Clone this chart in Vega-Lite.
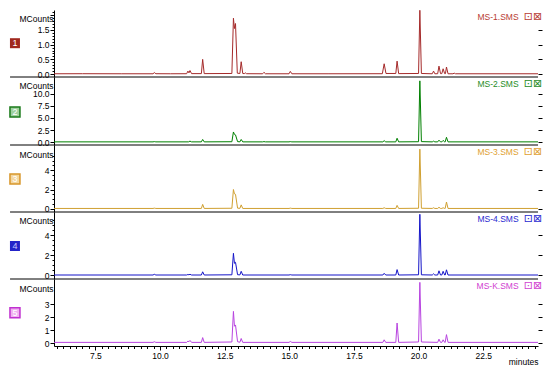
{
  "$schema": "https://vega.github.io/schema/vega-lite/v6.json",
  "background": "white",
  "padding": {"left": 6, "top": 8, "right": 4, "bottom": 2},
  "config": {
    "font": "Liberation Sans",
    "view": {"stroke": null},
    "axis": {"labelFontSize": 8.5, "labelColor": "black", "tickColor": "black", "domainColor": "black", "titleFontSize": 8.5, "titleFontWeight": "normal", "titleColor": "black", "grid": false, "labelOverlap": false, "labelFlush": false}
  },
  "datasets": {
    "p1": [{"t":5.9,"v":0.01},{"t":7.0,"v":0.012},{"t":8.5,"v":0.01},{"t":9.73,"v":0.01},{"t":9.78,"v":0.05},{"t":9.84,"v":0.012},{"t":10.4,"v":0.01},{"t":11.03,"v":0.012},{"t":11.08,"v":0.1},{"t":11.12,"v":0.04},{"t":11.16,"v":0.12},{"t":11.22,"v":0.015},{"t":11.6,"v":0.015},{"t":11.65,"v":0.5},{"t":11.71,"v":0.015},{"t":12.78,"v":0.02},{"t":12.84,"v":1.9},{"t":12.88,"v":1.55},{"t":12.92,"v":1.72},{"t":12.99,"v":0.03},{"t":13.09,"v":0.02},{"t":13.14,"v":0.42},{"t":13.2,"v":0.02},{"t":13.26,"v":0.015},{"t":13.3,"v":0.04},{"t":13.35,"v":0.012},{"t":13.97,"v":0.01},{"t":14.02,"v":0.06},{"t":14.08,"v":0.01},{"t":14.99,"v":0.01},{"t":15.04,"v":0.09},{"t":15.1,"v":0.01},{"t":16.5,"v":0.01},{"t":18.6,"v":0.012},{"t":18.67,"v":0.35},{"t":18.74,"v":0.02},{"t":19.12,"v":0.02},{"t":19.17,"v":0.44},{"t":19.23,"v":0.015},{"t":20.0,"v":0.02},{"t":20.05,"v":2.17},{"t":20.11,"v":0.02},{"t":20.53,"v":0.01},{"t":20.58,"v":0.1},{"t":20.63,"v":0.01},{"t":20.74,"v":0.012},{"t":20.79,"v":0.27},{"t":20.85,"v":0.015},{"t":20.9,"v":0.015},{"t":20.95,"v":0.18},{"t":21.01,"v":0.015},{"t":21.04,"v":0.015},{"t":21.08,"v":0.24},{"t":21.14,"v":0.01},{"t":21.33,"v":0.01},{"t":21.38,"v":0.03},{"t":21.43,"v":0.01},{"t":24.62,"v":0.01}],
    "p2": [{"t":5.9,"v":0.05},{"t":9.73,"v":0.05},{"t":9.78,"v":0.1},{"t":9.84,"v":0.05},{"t":11.1,"v":0.05},{"t":11.16,"v":0.2},{"t":11.22,"v":0.05},{"t":11.6,"v":0.05},{"t":11.65,"v":0.55},{"t":11.71,"v":0.05},{"t":12.78,"v":0.08},{"t":12.84,"v":2.1},{"t":12.88,"v":1.6},{"t":12.92,"v":1.5},{"t":13.0,"v":0.1},{"t":13.09,"v":0.06},{"t":13.14,"v":0.55},{"t":13.2,"v":0.05},{"t":13.97,"v":0.05},{"t":14.02,"v":0.1},{"t":14.08,"v":0.05},{"t":14.99,"v":0.05},{"t":15.04,"v":0.1},{"t":15.1,"v":0.05},{"t":18.62,"v":0.05},{"t":18.67,"v":0.3},{"t":18.73,"v":0.05},{"t":19.12,"v":0.05},{"t":19.17,"v":0.8},{"t":19.23,"v":0.05},{"t":20.0,"v":0.08},{"t":20.05,"v":12.7},{"t":20.11,"v":0.1},{"t":20.53,"v":0.05},{"t":20.58,"v":0.2},{"t":20.63,"v":0.05},{"t":20.74,"v":0.05},{"t":20.79,"v":0.4},{"t":20.85,"v":0.05},{"t":20.9,"v":0.05},{"t":20.95,"v":0.35},{"t":21.01,"v":0.05},{"t":21.03,"v":0.05},{"t":21.08,"v":1.0},{"t":21.14,"v":0.05},{"t":24.62,"v":0.05}],
    "p3": [{"t":5.9,"v":0.03},{"t":9.73,"v":0.03},{"t":9.78,"v":0.06},{"t":9.84,"v":0.03},{"t":11.6,"v":0.03},{"t":11.65,"v":0.45},{"t":11.71,"v":0.03},{"t":12.78,"v":0.05},{"t":12.84,"v":2.0},{"t":12.88,"v":1.55},{"t":12.92,"v":1.5},{"t":13.0,"v":0.06},{"t":13.09,"v":0.04},{"t":13.14,"v":0.4},{"t":13.2,"v":0.03},{"t":14.99,"v":0.03},{"t":15.04,"v":0.06},{"t":15.1,"v":0.03},{"t":18.62,"v":0.03},{"t":18.67,"v":0.1},{"t":18.73,"v":0.03},{"t":19.12,"v":0.03},{"t":19.17,"v":0.35},{"t":19.23,"v":0.03},{"t":20.0,"v":0.05},{"t":20.05,"v":6.2},{"t":20.11,"v":0.05},{"t":20.53,"v":0.03},{"t":20.58,"v":0.1},{"t":20.63,"v":0.03},{"t":20.74,"v":0.03},{"t":20.79,"v":0.15},{"t":20.85,"v":0.03},{"t":20.9,"v":0.03},{"t":20.95,"v":0.1},{"t":21.01,"v":0.03},{"t":21.03,"v":0.03},{"t":21.08,"v":0.7},{"t":21.14,"v":0.03},{"t":24.62,"v":0.03}],
    "p4": [{"t":5.9,"v":0.03},{"t":9.73,"v":0.03},{"t":9.78,"v":0.1},{"t":9.84,"v":0.03},{"t":11.03,"v":0.03},{"t":11.08,"v":0.08},{"t":11.12,"v":0.05},{"t":11.16,"v":0.1},{"t":11.22,"v":0.03},{"t":11.6,"v":0.03},{"t":11.65,"v":0.35},{"t":11.71,"v":0.03},{"t":12.78,"v":0.05},{"t":12.84,"v":2.2},{"t":12.88,"v":1.2},{"t":12.92,"v":1.3},{"t":13.0,"v":0.06},{"t":13.09,"v":0.04},{"t":13.14,"v":0.4},{"t":13.2,"v":0.03},{"t":14.99,"v":0.03},{"t":15.04,"v":0.06},{"t":15.1,"v":0.03},{"t":18.62,"v":0.03},{"t":18.67,"v":0.2},{"t":18.73,"v":0.03},{"t":19.12,"v":0.03},{"t":19.17,"v":0.57},{"t":19.23,"v":0.03},{"t":20.0,"v":0.05},{"t":20.05,"v":6.1},{"t":20.11,"v":0.05},{"t":20.53,"v":0.03},{"t":20.58,"v":0.15},{"t":20.63,"v":0.03},{"t":20.74,"v":0.03},{"t":20.79,"v":0.45},{"t":20.85,"v":0.03},{"t":20.9,"v":0.03},{"t":20.95,"v":0.4},{"t":21.01,"v":0.03},{"t":21.03,"v":0.03},{"t":21.08,"v":0.55},{"t":21.14,"v":0.03},{"t":24.62,"v":0.03}],
    "p5": [{"t":5.9,"v":0.05},{"t":9.73,"v":0.05},{"t":9.78,"v":0.1},{"t":9.84,"v":0.05},{"t":11.03,"v":0.05},{"t":11.08,"v":0.15},{"t":11.12,"v":0.1},{"t":11.16,"v":0.2},{"t":11.22,"v":0.05},{"t":11.6,"v":0.05},{"t":11.65,"v":0.42},{"t":11.71,"v":0.05},{"t":12.78,"v":0.08},{"t":12.84,"v":2.45},{"t":12.88,"v":1.3},{"t":12.92,"v":1.4},{"t":13.0,"v":0.1},{"t":13.09,"v":0.06},{"t":13.14,"v":0.35},{"t":13.2,"v":0.05},{"t":14.99,"v":0.05},{"t":15.04,"v":0.12},{"t":15.1,"v":0.05},{"t":18.62,"v":0.05},{"t":18.67,"v":0.25},{"t":18.73,"v":0.05},{"t":19.12,"v":0.05},{"t":19.17,"v":1.55},{"t":19.23,"v":0.05},{"t":20.0,"v":0.08},{"t":20.05,"v":4.7},{"t":20.11,"v":0.08},{"t":20.74,"v":0.05},{"t":20.79,"v":0.3},{"t":20.85,"v":0.05},{"t":20.9,"v":0.05},{"t":20.95,"v":0.25},{"t":21.01,"v":0.05},{"t":21.03,"v":0.05},{"t":21.08,"v":0.65},{"t":21.14,"v":0.05},{"t":24.62,"v":0.05}]
  },
  "vconcat": [
    {
      "width": 484, "height": 67,
      "layer": [
        {"data": {"name": "p1"}, "mark": {"type": "line", "color": "#a52a2a", "strokeWidth": 1},
         "encoding": {
           "x": {"field": "t", "type": "quantitative", "scale": {"domain": [5.9, 24.62], "nice": false, "zero": false}, "axis": null},
           "y": {"field": "v", "type": "quantitative", "scale": {"domain": [-0.1, 2.18], "nice": false, "zero": false},
                 "axis": {"orient": "left", "values": [0,0.1,0.2,0.3,0.4,0.5,0.6,0.7,0.8,0.9,1,1.1,1.2,1.3,1.4,1.5,1.6,1.7,1.8,1.9,2.0,2.1],
                          "labelExpr": "abs(datum.value*2-round(datum.value*2))<0.001 && datum.value < 1.8 ? format(datum.value,'.1f') : ''",
                          "tickSize": {"condition": {"test": "abs(datum.value*2-round(datum.value*2))<0.001", "value": 4}, "value": 2},
                          "labelPadding": 1, "title": "MCounts", "titleAngle": 0, "titleAlign": "right", "titleBaseline": "middle", "titleX": -1, "titleY": 8}}}},
        {"data": {"name": "p1"}, "mark": {"type": "line", "opacity": 0},
         "encoding": {"x": {"field": "t", "type": "quantitative", "axis": null},
                      "y": {"field": "v", "type": "quantitative", "axis": {"orient": "right", "values": [0,0.5,1,1.5], "labels": false, "domain": false, "tickSize": 4, "title": null}}}},
        {"data": {"values": [{}]}, "mark": {"type": "rule", "color": "black", "strokeWidth": 1},
         "encoding": {"x": {"datum": 4.2, "type": "quantitative", "axis": null}, "x2": {"datum": 24.62}, "y": {"datum": -0.1, "type": "quantitative", "axis": null}}},
        {"data": {"values": [{"n": "1"}]}, "mark": {"type": "point", "shape": "square", "filled": true, "size": 100, "color": "#a0281e", "opacity": 1},
         "encoding": {"x": {"datum": 4.39, "type": "quantitative", "axis": null}, "y": {"datum": 1.05, "type": "quantitative", "axis": null}}},
        {"data": {"values": [{"n": "1"}]}, "mark": {"type": "text", "color": "white", "fontSize": 9, "font": "Liberation Sans"},
         "encoding": {"x": {"datum": 4.39, "type": "quantitative", "axis": null}, "y": {"datum": 1.05, "type": "quantitative", "axis": null}, "text": {"field": "n"}}},
        {"data": {"values": [{"s": "MS-1.SMS"}]}, "mark": {"type": "text", "color": "#b83a32", "fontSize": 8.5, "align": "right", "baseline": "middle"},
         "encoding": {"x": {"datum": 23.87, "type": "quantitative", "axis": null}, "y": {"datum": 1.95, "type": "quantitative", "axis": null}, "text": {"field": "s"}}},
        {"data": {"values": [{"s": "⊡⊠"}]}, "mark": {"type": "text", "color": "#b83a32", "fontSize": 11, "font": "DejaVu Sans", "align": "center", "baseline": "middle"},
         "encoding": {"x": {"datum": 24.43, "type": "quantitative", "axis": null}, "y": {"datum": 1.95, "type": "quantitative", "axis": null}, "text": {"field": "s"}}}
      ],
      "resolve": {"axis": {"y": "independent"}}
    },
    {
      "width": 484, "height": 68,
      "layer": [
        {"data": {"name": "p2"}, "mark": {"type": "line", "color": "#008000", "strokeWidth": 1},
         "encoding": {
           "x": {"field": "t", "type": "quantitative", "scale": {"domain": [5.9, 24.62], "nice": false, "zero": false}, "axis": null},
           "y": {"field": "v", "type": "quantitative", "scale": {"domain": [-0.6, 13.5], "nice": false, "zero": false},
                 "axis": {"orient": "left", "values": [0,2.5,5,7.5,10], "format": ".1f", "tickSize": 4,
                          "labelPadding": 1, "title": "MCounts", "titleAngle": 0, "titleAlign": "right", "titleBaseline": "middle", "titleX": -1, "titleY": 8}}}},
        {"data": {"name": "p2"}, "mark": {"type": "line", "opacity": 0},
         "encoding": {"x": {"field": "t", "type": "quantitative", "axis": null},
                      "y": {"field": "v", "type": "quantitative", "axis": {"orient": "right", "values": [0,2.5,5,7.5,10], "labels": false, "domain": false, "tickSize": 4, "title": null}}}},
        {"data": {"values": [{}]}, "mark": {"type": "rule", "color": "black", "strokeWidth": 1},
         "encoding": {"x": {"datum": 4.2, "type": "quantitative", "axis": null}, "x2": {"datum": 24.62}, "y": {"datum": -0.6, "type": "quantitative", "axis": null}}},
        {"data": {"values": [{"n": "2"}]}, "mark": {"type": "point", "shape": "square", "filled": true, "size": 100, "color": "#9fd09f", "stroke": "#1a7a1a", "strokeWidth": 1.5, "opacity": 1},
         "encoding": {"x": {"datum": 4.39, "type": "quantitative", "axis": null}, "y": {"datum": 6.24, "type": "quantitative", "axis": null}}},
        {"data": {"values": [{"n": "2"}]}, "mark": {"type": "text", "color": "white", "fontSize": 9},
         "encoding": {"x": {"datum": 4.39, "type": "quantitative", "axis": null}, "y": {"datum": 6.24, "type": "quantitative", "axis": null}, "text": {"field": "n"}}},
        {"data": {"values": [{"s": "MS-2.SMS"}]}, "mark": {"type": "text", "color": "#1e8c1e", "fontSize": 8.5, "align": "right", "baseline": "middle"},
         "encoding": {"x": {"datum": 23.87, "type": "quantitative", "axis": null}, "y": {"datum": 12.1, "type": "quantitative", "axis": null}, "text": {"field": "s"}}},
        {"data": {"values": [{"s": "⊡⊠"}]}, "mark": {"type": "text", "color": "#1e8c1e", "fontSize": 11, "font": "DejaVu Sans", "align": "center", "baseline": "middle"},
         "encoding": {"x": {"datum": 24.43, "type": "quantitative", "axis": null}, "y": {"datum": 12.1, "type": "quantitative", "axis": null}, "text": {"field": "s"}}}
      ],
      "resolve": {"axis": {"y": "independent"}}
    },
    {
      "width": 484, "height": 67,
      "layer": [
        {"data": {"name": "p3"}, "mark": {"type": "line", "color": "#d0a030", "strokeWidth": 1},
         "encoding": {
           "x": {"field": "t", "type": "quantitative", "scale": {"domain": [5.9, 24.62], "nice": false, "zero": false}, "axis": null},
           "y": {"field": "v", "type": "quantitative", "scale": {"domain": [-0.34, 6.63], "nice": false, "zero": false},
                 "axis": {"orient": "left", "values": [0,0.5,1,1.5,2,2.5,3,3.5,4,4.5,5,5.5],
                          "labelExpr": "abs(datum.value/2-round(datum.value/2))<0.001 ? format(datum.value,'d') : ''",
                          "tickSize": {"condition": {"test": "abs(datum.value/2-round(datum.value/2))<0.001", "value": 4}, "value": 2},
                          "labelPadding": 1, "title": "MCounts", "titleAngle": 0, "titleAlign": "right", "titleBaseline": "middle", "titleX": -1, "titleY": 9}}}},
        {"data": {"name": "p3"}, "mark": {"type": "line", "opacity": 0},
         "encoding": {"x": {"field": "t", "type": "quantitative", "axis": null},
                      "y": {"field": "v", "type": "quantitative", "axis": {"orient": "right", "values": [0,2,4], "labels": false, "domain": false, "tickSize": 4, "title": null}}}},
        {"data": {"values": [{}]}, "mark": {"type": "rule", "color": "black", "strokeWidth": 1},
         "encoding": {"x": {"datum": 4.2, "type": "quantitative", "axis": null}, "x2": {"datum": 24.62}, "y": {"datum": -0.34, "type": "quantitative", "axis": null}}},
        {"data": {"values": [{"n": "3"}]}, "mark": {"type": "point", "shape": "square", "filled": true, "size": 100, "color": "#f3d7a0", "stroke": "#d8962a", "strokeWidth": 1.5, "opacity": 1},
         "encoding": {"x": {"datum": 4.39, "type": "quantitative", "axis": null}, "y": {"datum": 3.09, "type": "quantitative", "axis": null}}},
        {"data": {"values": [{"n": "3"}]}, "mark": {"type": "text", "color": "white", "fontSize": 9},
         "encoding": {"x": {"datum": 4.39, "type": "quantitative", "axis": null}, "y": {"datum": 3.09, "type": "quantitative", "axis": null}, "text": {"field": "n"}}},
        {"data": {"values": [{"s": "MS-3.SMS"}]}, "mark": {"type": "text", "color": "#e0a030", "fontSize": 8.5, "align": "right", "baseline": "middle"},
         "encoding": {"x": {"datum": 23.87, "type": "quantitative", "axis": null}, "y": {"datum": 5.95, "type": "quantitative", "axis": null}, "text": {"field": "s"}}},
        {"data": {"values": [{"s": "⊡⊠"}]}, "mark": {"type": "text", "color": "#e0a030", "fontSize": 11, "font": "DejaVu Sans", "align": "center", "baseline": "middle"},
         "encoding": {"x": {"datum": 24.43, "type": "quantitative", "axis": null}, "y": {"datum": 5.95, "type": "quantitative", "axis": null}, "text": {"field": "s"}}}
      ],
      "resolve": {"axis": {"y": "independent"}}
    },
    {
      "width": 484, "height": 67,
      "layer": [
        {"data": {"name": "p4"}, "mark": {"type": "line", "color": "#1414c8", "strokeWidth": 1},
         "encoding": {
           "x": {"field": "t", "type": "quantitative", "scale": {"domain": [5.9, 24.62], "nice": false, "zero": false}, "axis": null},
           "y": {"field": "v", "type": "quantitative", "scale": {"domain": [-0.37, 6.33], "nice": false, "zero": false},
                 "axis": {"orient": "left", "values": [0,0.5,1,1.5,2,2.5,3,3.5,4,4.5,5,5.5],
                          "labelExpr": "abs(datum.value/2-round(datum.value/2))<0.001 ? format(datum.value,'d') : ''",
                          "tickSize": {"condition": {"test": "abs(datum.value/2-round(datum.value/2))<0.001", "value": 4}, "value": 2},
                          "labelPadding": 1, "title": "MCounts", "titleAngle": 0, "titleAlign": "right", "titleBaseline": "middle", "titleX": -1, "titleY": 8}}}},
        {"data": {"name": "p4"}, "mark": {"type": "line", "opacity": 0},
         "encoding": {"x": {"field": "t", "type": "quantitative", "axis": null},
                      "y": {"field": "v", "type": "quantitative", "axis": {"orient": "right", "values": [0,2,4], "labels": false, "domain": false, "tickSize": 4, "title": null}}}},
        {"data": {"values": [{}]}, "mark": {"type": "rule", "color": "black", "strokeWidth": 1},
         "encoding": {"x": {"datum": 4.2, "type": "quantitative", "axis": null}, "x2": {"datum": 24.62}, "y": {"datum": -0.37, "type": "quantitative", "axis": null}}},
        {"data": {"values": [{"n": "4"}]}, "mark": {"type": "point", "shape": "square", "filled": true, "size": 100, "color": "#2323c8", "opacity": 1},
         "encoding": {"x": {"datum": 4.39, "type": "quantitative", "axis": null}, "y": {"datum": 2.93, "type": "quantitative", "axis": null}}},
        {"data": {"values": [{"n": "4"}]}, "mark": {"type": "text", "color": "#c8c8ff", "fontSize": 9},
         "encoding": {"x": {"datum": 4.39, "type": "quantitative", "axis": null}, "y": {"datum": 2.93, "type": "quantitative", "axis": null}, "text": {"field": "n"}}},
        {"data": {"values": [{"s": "MS-4.SMS"}]}, "mark": {"type": "text", "color": "#2828d0", "fontSize": 8.5, "align": "right", "baseline": "middle"},
         "encoding": {"x": {"datum": 23.87, "type": "quantitative", "axis": null}, "y": {"datum": 5.65, "type": "quantitative", "axis": null}, "text": {"field": "s"}}},
        {"data": {"values": [{"s": "⊡⊠"}]}, "mark": {"type": "text", "color": "#2828d0", "fontSize": 11, "font": "DejaVu Sans", "align": "center", "baseline": "middle"},
         "encoding": {"x": {"datum": 24.43, "type": "quantitative", "axis": null}, "y": {"datum": 5.65, "type": "quantitative", "axis": null}, "text": {"field": "s"}}}
      ],
      "resolve": {"axis": {"y": "independent"}}
    },
    {
      "width": 484, "height": 67,
      "layer": [
        {"data": {"name": "p5"}, "mark": {"type": "line", "color": "#b844e0", "strokeWidth": 1},
         "encoding": {
           "x": {"field": "t", "type": "quantitative", "scale": {"domain": [5.9, 24.62], "nice": false, "zero": false},
                 "axis": {"values": [6,6.25,6.5,6.75,7,7.25,7.5,7.75,8,8.25,8.5,8.75,9,9.25,9.5,9.75,10,10.25,10.5,10.75,11,11.25,11.5,11.75,12,12.25,12.5,12.75,13,13.25,13.5,13.75,14,14.25,14.5,14.75,15,15.25,15.5,15.75,16,16.25,16.5,16.75,17,17.25,17.5,17.75,18,18.25,18.5,18.75,19,19.25,19.5,19.75,20,20.25,20.5,20.75,21,21.25,21.5,21.75,22,22.25,22.5,22.75,23,23.25,23.5,23.75,24,24.25,24.5],
                          "labelExpr": "abs(datum.value/2.5-round(datum.value/2.5))<0.001 ? format(datum.value,'.1f') : ''",
                          "tickSize": {"condition": {"test": "abs(datum.value/2.5-round(datum.value/2.5))<0.001", "value": 4}, "value": 2.5},
                          "labelPadding": 1, "title": "minutes", "titleAnchor": "end", "titleAlign": "right", "titlePadding": -2}},
           "y": {"field": "v", "type": "quantitative", "scale": {"domain": [-0.23, 4.96], "nice": false, "zero": false},
                 "axis": {"orient": "left", "values": [0,1,2,3], "format": "d", "tickSize": 4,
                          "labelPadding": 1, "title": "MCounts", "titleAngle": 0, "titleAlign": "right", "titleBaseline": "middle", "titleX": -1, "titleY": 9}}}},
        {"data": {"name": "p5"}, "mark": {"type": "line", "opacity": 0},
         "encoding": {"x": {"field": "t", "type": "quantitative", "axis": null},
                      "y": {"field": "v", "type": "quantitative", "axis": {"orient": "right", "values": [0,1,2,3], "labels": false, "domain": false, "tickSize": 4, "title": null}}}},
        {"data": {"values": [{"n": "5"}]}, "mark": {"type": "point", "shape": "square", "filled": true, "size": 100, "color": "#f0b0f0", "stroke": "#c030d0", "strokeWidth": 1.5, "opacity": 1},
         "encoding": {"x": {"datum": 4.39, "type": "quantitative", "axis": null}, "y": {"datum": 2.35, "type": "quantitative", "axis": null}}},
        {"data": {"values": [{"n": "5"}]}, "mark": {"type": "text", "color": "white", "fontSize": 9},
         "encoding": {"x": {"datum": 4.39, "type": "quantitative", "axis": null}, "y": {"datum": 2.35, "type": "quantitative", "axis": null}, "text": {"field": "n"}}},
        {"data": {"values": [{"s": "MS-K.SMS"}]}, "mark": {"type": "text", "color": "#d040d0", "fontSize": 8.5, "align": "right", "baseline": "middle"},
         "encoding": {"x": {"datum": 23.87, "type": "quantitative", "axis": null}, "y": {"datum": 4.45, "type": "quantitative", "axis": null}, "text": {"field": "s"}}},
        {"data": {"values": [{"s": "⊡⊠"}]}, "mark": {"type": "text", "color": "#d040d0", "fontSize": 11, "font": "DejaVu Sans", "align": "center", "baseline": "middle"},
         "encoding": {"x": {"datum": 24.43, "type": "quantitative", "axis": null}, "y": {"datum": 4.45, "type": "quantitative", "axis": null}, "text": {"field": "s"}}}
      ],
      "resolve": {"axis": {"y": "independent", "x": "independent"}}
    }
  ],
  "spacing": 0,
  "bounds": "flush"
}
